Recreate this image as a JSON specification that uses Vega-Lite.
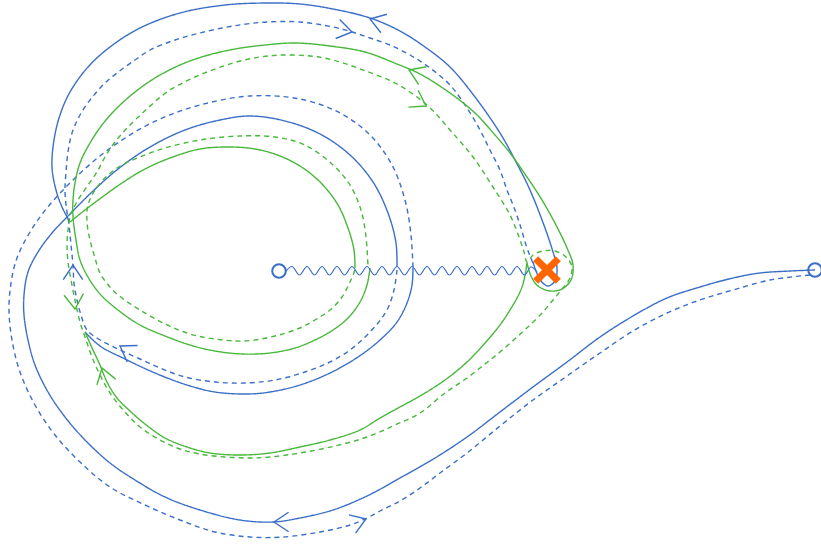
{
"$schema": "https://vega.github.io/schema/vega-lite/v6.json",
"width": 821, "height": 548,
"autosize": {"type": "none"},
"padding": 0,
"background": "white",
"config": {"view": {"stroke": null}},
"datasets": {
"paths": [
{"s":"BS1","i":1,"x":815,"y":270},{"s":"BS1","i":2,"x":790,"y":271},{"s":"BS1","i":3,"x":760,"y":273},{"s":"BS1","i":4,"x":733,"y":278},{"s":"BS1","i":5,"x":700,"y":287},{"s":"BS1","i":6,"x":667,"y":298},{"s":"BS1","i":7,"x":633,"y":316},{"s":"BS1","i":8,"x":600,"y":337},{"s":"BS1","i":9,"x":567,"y":362},{"s":"BS1","i":10,"x":533,"y":387},{"s":"BS1","i":11,"x":500,"y":412},{"s":"BS1","i":12,"x":467,"y":437},{"s":"BS1","i":13,"x":435,"y":458},{"s":"BS1","i":14,"x":400,"y":478},{"s":"BS1","i":15,"x":367,"y":496},{"s":"BS1","i":16,"x":333,"y":510},{"s":"BS1","i":17,"x":300,"y":518},{"s":"BS1","i":18,"x":273,"y":522},{"s":"BS1","i":19,"x":240,"y":520},{"s":"BS1","i":20,"x":200,"y":510},{"s":"BS1","i":21,"x":165,"y":497},{"s":"BS1","i":22,"x":135,"y":480},{"s":"BS1","i":23,"x":110,"y":463},{"s":"BS1","i":24,"x":85,"y":440},{"s":"BS1","i":25,"x":65,"y":417},{"s":"BS1","i":26,"x":48,"y":392},{"s":"BS1","i":27,"x":35,"y":365},{"s":"BS1","i":28,"x":28,"y":340},{"s":"BS1","i":29,"x":24,"y":315},{"s":"BS1","i":30,"x":24,"y":295},{"s":"BS1","i":31,"x":28,"y":272},{"s":"BS1","i":32,"x":38,"y":252},{"s":"BS1","i":33,"x":52,"y":233},{"s":"BS1","i":34,"x":70,"y":214},{"s":"BS1","i":35,"x":92,"y":192},{"s":"BS1","i":36,"x":118,"y":169},{"s":"BS1","i":37,"x":150,"y":147},{"s":"BS1","i":38,"x":185,"y":130},{"s":"BS1","i":39,"x":220,"y":120},{"s":"BS1","i":40,"x":250,"y":116},{"s":"BS1","i":41,"x":285,"y":121},{"s":"BS1","i":42,"x":320,"y":134},{"s":"BS1","i":43,"x":350,"y":155},{"s":"BS1","i":44,"x":373,"y":182},{"s":"BS1","i":45,"x":388,"y":213},{"s":"BS1","i":46,"x":396,"y":243},{"s":"BS1","i":47,"x":397,"y":267},
{"s":"BS2","i":1,"x":413,"y":268},{"s":"BS2","i":2,"x":412,"y":285},{"s":"BS2","i":3,"x":407,"y":303},{"s":"BS2","i":4,"x":397,"y":322},{"s":"BS2","i":5,"x":380,"y":340},{"s":"BS2","i":6,"x":358,"y":357},{"s":"BS2","i":7,"x":330,"y":373},{"s":"BS2","i":8,"x":300,"y":385},{"s":"BS2","i":9,"x":270,"y":392},{"s":"BS2","i":10,"x":247,"y":394},{"s":"BS2","i":11,"x":215,"y":392},{"s":"BS2","i":12,"x":187,"y":385},{"s":"BS2","i":13,"x":155,"y":373},{"s":"BS2","i":14,"x":125,"y":359},{"s":"BS2","i":15,"x":100,"y":346},{"s":"BS2","i":16,"x":85,"y":332},
{"s":"BS3","i":1,"x":70,"y":222},{"s":"BS3","i":2,"x":62,"y":207},{"s":"BS3","i":3,"x":56,"y":190},{"s":"BS3","i":4,"x":52,"y":167},{"s":"BS3","i":5,"x":54,"y":140},{"s":"BS3","i":6,"x":60,"y":115},{"s":"BS3","i":7,"x":70,"y":92},{"s":"BS3","i":8,"x":88,"y":67},{"s":"BS3","i":9,"x":110,"y":47},{"s":"BS3","i":10,"x":140,"y":28},{"s":"BS3","i":11,"x":180,"y":13},{"s":"BS3","i":12,"x":225,"y":5},{"s":"BS3","i":13,"x":267,"y":3},{"s":"BS3","i":14,"x":300,"y":4},{"s":"BS3","i":15,"x":333,"y":9},{"s":"BS3","i":16,"x":370,"y":18},{"s":"BS3","i":17,"x":400,"y":31},{"s":"BS3","i":18,"x":425,"y":47},{"s":"BS3","i":19,"x":450,"y":67},{"s":"BS3","i":20,"x":475,"y":97},{"s":"BS3","i":21,"x":500,"y":133},{"s":"BS3","i":22,"x":515,"y":160},{"s":"BS3","i":23,"x":530,"y":190},{"s":"BS3","i":24,"x":545,"y":228},{"s":"BS3","i":25,"x":553,"y":252},{"s":"BS3","i":26,"x":557,"y":268},{"s":"BS3","i":27,"x":555,"y":281},{"s":"BS3","i":28,"x":548,"y":286},{"s":"BS3","i":29,"x":541,"y":281},{"s":"BS3","i":30,"x":536,"y":271},{"s":"BS3","i":31,"x":533,"y":262},
{"s":"BD1","i":1,"x":810,"y":275},{"s":"BD1","i":2,"x":770,"y":280},{"s":"BD1","i":3,"x":733,"y":290},{"s":"BD1","i":4,"x":700,"y":300},{"s":"BD1","i":5,"x":667,"y":313},{"s":"BD1","i":6,"x":633,"y":331},{"s":"BD1","i":7,"x":600,"y":353},{"s":"BD1","i":8,"x":567,"y":376},{"s":"BD1","i":9,"x":533,"y":400},{"s":"BD1","i":10,"x":500,"y":426},{"s":"BD1","i":11,"x":467,"y":453},{"s":"BD1","i":12,"x":440,"y":473},{"s":"BD1","i":13,"x":420,"y":488},{"s":"BD1","i":14,"x":400,"y":501},{"s":"BD1","i":15,"x":380,"y":511},{"s":"BD1","i":16,"x":367,"y":518},{"s":"BD1","i":17,"x":350,"y":525},{"s":"BD1","i":18,"x":320,"y":532},{"s":"BD1","i":19,"x":283,"y":537},{"s":"BD1","i":20,"x":250,"y":537},{"s":"BD1","i":21,"x":215,"y":532},{"s":"BD1","i":22,"x":180,"y":520},{"s":"BD1","i":23,"x":145,"y":505},{"s":"BD1","i":24,"x":110,"y":487},{"s":"BD1","i":25,"x":80,"y":462},{"s":"BD1","i":26,"x":55,"y":435},{"s":"BD1","i":27,"x":35,"y":405},{"s":"BD1","i":28,"x":20,"y":372},{"s":"BD1","i":29,"x":12,"y":340},{"s":"BD1","i":30,"x":9,"y":310},{"s":"BD1","i":31,"x":11,"y":283},{"s":"BD1","i":32,"x":17,"y":258},{"s":"BD1","i":33,"x":30,"y":232},{"s":"BD1","i":34,"x":47,"y":208},{"s":"BD1","i":35,"x":70,"y":183},{"s":"BD1","i":36,"x":95,"y":160},{"s":"BD1","i":37,"x":125,"y":138},{"s":"BD1","i":38,"x":160,"y":119},{"s":"BD1","i":39,"x":200,"y":105},{"s":"BD1","i":40,"x":250,"y":96},{"s":"BD1","i":41,"x":300,"y":99},{"s":"BD1","i":42,"x":340,"y":113},{"s":"BD1","i":43,"x":370,"y":135},{"s":"BD1","i":44,"x":392,"y":165},{"s":"BD1","i":45,"x":405,"y":200},{"s":"BD1","i":46,"x":411,"y":235},{"s":"BD1","i":47,"x":413,"y":268},
{"s":"BD2","i":1,"x":397,"y":270},{"s":"BD2","i":2,"x":394,"y":290},{"s":"BD2","i":3,"x":388,"y":308},{"s":"BD2","i":4,"x":378,"y":323},{"s":"BD2","i":5,"x":365,"y":337},{"s":"BD2","i":6,"x":350,"y":350},{"s":"BD2","i":7,"x":330,"y":362},{"s":"BD2","i":8,"x":305,"y":372},{"s":"BD2","i":9,"x":275,"y":380},{"s":"BD2","i":10,"x":245,"y":383},{"s":"BD2","i":11,"x":215,"y":382},{"s":"BD2","i":12,"x":185,"y":377},{"s":"BD2","i":13,"x":160,"y":368},{"s":"BD2","i":14,"x":140,"y":359},{"s":"BD2","i":15,"x":118,"y":349},{"s":"BD2","i":16,"x":100,"y":340},{"s":"BD2","i":17,"x":87,"y":330},{"s":"BD2","i":18,"x":81,"y":315},{"s":"BD2","i":19,"x":77,"y":300},{"s":"BD2","i":20,"x":74,"y":283},{"s":"BD2","i":21,"x":73,"y":265},{"s":"BD2","i":22,"x":71,"y":245},{"s":"BD2","i":23,"x":69,"y":225},{"s":"BD2","i":24,"x":66,"y":205},{"s":"BD2","i":25,"x":65,"y":190},{"s":"BD2","i":26,"x":66,"y":172},{"s":"BD2","i":27,"x":68,"y":152},{"s":"BD2","i":28,"x":72,"y":133},{"s":"BD2","i":29,"x":80,"y":115},{"s":"BD2","i":30,"x":90,"y":100},{"s":"BD2","i":31,"x":103,"y":85},{"s":"BD2","i":32,"x":117,"y":73},{"s":"BD2","i":33,"x":135,"y":60},{"s":"BD2","i":34,"x":150,"y":50},{"s":"BD2","i":35,"x":175,"y":40},{"s":"BD2","i":36,"x":200,"y":33},{"s":"BD2","i":37,"x":233,"y":26},{"s":"BD2","i":38,"x":267,"y":22},{"s":"BD2","i":39,"x":300,"y":22},{"s":"BD2","i":40,"x":333,"y":27},{"s":"BD2","i":41,"x":352,"y":32},{"s":"BD2","i":42,"x":370,"y":38},{"s":"BD2","i":43,"x":390,"y":45},{"s":"BD2","i":44,"x":410,"y":55},{"s":"BD2","i":45,"x":430,"y":68},{"s":"BD2","i":46,"x":450,"y":85},{"s":"BD2","i":47,"x":467,"y":108},{"s":"BD2","i":48,"x":480,"y":130},{"s":"BD2","i":49,"x":490,"y":150},{"s":"BD2","i":50,"x":500,"y":170},{"s":"BD2","i":51,"x":507,"y":190},{"s":"BD2","i":52,"x":515,"y":210},{"s":"BD2","i":53,"x":521,"y":228},{"s":"BD2","i":54,"x":526,"y":245},{"s":"BD2","i":55,"x":530,"y":256},{"s":"BD2","i":56,"x":533,"y":263},
{"s":"GS1","i":1,"x":70,"y":222},{"s":"GS1","i":2,"x":85,"y":210},{"s":"GS1","i":3,"x":105,"y":195},{"s":"GS1","i":4,"x":125,"y":181},{"s":"GS1","i":5,"x":145,"y":169},{"s":"GS1","i":6,"x":170,"y":158},{"s":"GS1","i":7,"x":200,"y":149},{"s":"GS1","i":8,"x":227,"y":147},{"s":"GS1","i":9,"x":255,"y":149},{"s":"GS1","i":10,"x":280,"y":156},{"s":"GS1","i":11,"x":303,"y":168},{"s":"GS1","i":12,"x":322,"y":184},{"s":"GS1","i":13,"x":338,"y":205},{"s":"GS1","i":14,"x":348,"y":228},{"s":"GS1","i":15,"x":354,"y":250},{"s":"GS1","i":16,"x":355,"y":268},
{"s":"GS2","i":1,"x":370,"y":268},{"s":"GS2","i":2,"x":367,"y":285},{"s":"GS2","i":3,"x":360,"y":302},{"s":"GS2","i":4,"x":348,"y":318},{"s":"GS2","i":5,"x":333,"y":330},{"s":"GS2","i":6,"x":315,"y":340},{"s":"GS2","i":7,"x":295,"y":348},{"s":"GS2","i":8,"x":270,"y":353},{"s":"GS2","i":9,"x":243,"y":354},{"s":"GS2","i":10,"x":215,"y":351},{"s":"GS2","i":11,"x":190,"y":345},{"s":"GS2","i":12,"x":165,"y":336},{"s":"GS2","i":13,"x":140,"y":325},{"s":"GS2","i":14,"x":118,"y":310},{"s":"GS2","i":15,"x":100,"y":294},{"s":"GS2","i":16,"x":88,"y":277},{"s":"GS2","i":17,"x":80,"y":260},{"s":"GS2","i":18,"x":76,"y":240},{"s":"GS2","i":19,"x":73,"y":217},{"s":"GS2","i":20,"x":73,"y":200},{"s":"GS2","i":21,"x":75,"y":183},{"s":"GS2","i":22,"x":80,"y":163},{"s":"GS2","i":23,"x":90,"y":143},{"s":"GS2","i":24,"x":102,"y":125},{"s":"GS2","i":25,"x":117,"y":108},{"s":"GS2","i":26,"x":135,"y":92},{"s":"GS2","i":27,"x":155,"y":78},{"s":"GS2","i":28,"x":180,"y":65},{"s":"GS2","i":29,"x":205,"y":56},{"s":"GS2","i":30,"x":235,"y":49},{"s":"GS2","i":31,"x":265,"y":45},{"s":"GS2","i":32,"x":295,"y":43},{"s":"GS2","i":33,"x":330,"y":46},{"s":"GS2","i":34,"x":365,"y":52},{"s":"GS2","i":35,"x":397,"y":64},{"s":"GS2","i":36,"x":420,"y":74},{"s":"GS2","i":37,"x":450,"y":93},{"s":"GS2","i":38,"x":475,"y":113},{"s":"GS2","i":39,"x":495,"y":135},{"s":"GS2","i":40,"x":510,"y":153},{"s":"GS2","i":41,"x":527,"y":177},{"s":"GS2","i":42,"x":542,"y":200},{"s":"GS2","i":43,"x":557,"y":227},{"s":"GS2","i":44,"x":567,"y":248},{"s":"GS2","i":45,"x":573,"y":265},{"s":"GS2","i":46,"x":571,"y":280},{"s":"GS2","i":47,"x":562,"y":289},{"s":"GS2","i":48,"x":550,"y":291},{"s":"GS2","i":49,"x":538,"y":286},{"s":"GS2","i":50,"x":531,"y":276},{"s":"GS2","i":51,"x":527,"y":263},
{"s":"GS3","i":1,"x":527,"y":263},{"s":"GS3","i":2,"x":524,"y":280},{"s":"GS3","i":3,"x":520,"y":292},{"s":"GS3","i":4,"x":510,"y":310},{"s":"GS3","i":5,"x":500,"y":325},{"s":"GS3","i":6,"x":485,"y":343},{"s":"GS3","i":7,"x":467,"y":362},{"s":"GS3","i":8,"x":445,"y":380},{"s":"GS3","i":9,"x":420,"y":396},{"s":"GS3","i":10,"x":400,"y":407},{"s":"GS3","i":11,"x":380,"y":418},{"s":"GS3","i":12,"x":360,"y":430},{"s":"GS3","i":13,"x":330,"y":440},{"s":"GS3","i":14,"x":300,"y":447},{"s":"GS3","i":15,"x":270,"y":453},{"s":"GS3","i":16,"x":240,"y":455},{"s":"GS3","i":17,"x":210,"y":453},{"s":"GS3","i":18,"x":187,"y":447},{"s":"GS3","i":19,"x":165,"y":438},{"s":"GS3","i":20,"x":145,"y":424},{"s":"GS3","i":21,"x":130,"y":411},{"s":"GS3","i":22,"x":117,"y":398},{"s":"GS3","i":23,"x":107,"y":382},{"s":"GS3","i":24,"x":100,"y":365},{"s":"GS3","i":25,"x":93,"y":350},{"s":"GS3","i":26,"x":85,"y":332},
{"s":"GD1","i":1,"x":355,"y":270},{"s":"GD1","i":2,"x":350,"y":282},{"s":"GD1","i":3,"x":342,"y":297},{"s":"GD1","i":4,"x":330,"y":310},{"s":"GD1","i":5,"x":315,"y":320},{"s":"GD1","i":6,"x":300,"y":328},{"s":"GD1","i":7,"x":275,"y":336},{"s":"GD1","i":8,"x":245,"y":341},{"s":"GD1","i":9,"x":215,"y":339},{"s":"GD1","i":10,"x":190,"y":334},{"s":"GD1","i":11,"x":165,"y":324},{"s":"GD1","i":12,"x":140,"y":310},{"s":"GD1","i":13,"x":122,"y":298},{"s":"GD1","i":14,"x":110,"y":287},{"s":"GD1","i":15,"x":100,"y":273},{"s":"GD1","i":16,"x":95,"y":258},{"s":"GD1","i":17,"x":90,"y":240},{"s":"GD1","i":18,"x":87,"y":222},{"s":"GD1","i":19,"x":88,"y":205},{"s":"GD1","i":20,"x":95,"y":190},{"s":"GD1","i":21,"x":107,"y":176},{"s":"GD1","i":22,"x":122,"y":165},{"s":"GD1","i":23,"x":140,"y":157},{"s":"GD1","i":24,"x":165,"y":148},{"s":"GD1","i":25,"x":200,"y":140},{"s":"GD1","i":26,"x":240,"y":136},{"s":"GD1","i":27,"x":275,"y":137},{"s":"GD1","i":28,"x":305,"y":145},{"s":"GD1","i":29,"x":333,"y":165},{"s":"GD1","i":30,"x":350,"y":185},{"s":"GD1","i":31,"x":361,"y":210},{"s":"GD1","i":32,"x":366,"y":237},{"s":"GD1","i":33,"x":368,"y":267},
{"s":"GD2","i":1,"x":70,"y":215},{"s":"GD2","i":2,"x":78,"y":200},{"s":"GD2","i":3,"x":88,"y":185},{"s":"GD2","i":4,"x":97,"y":172},{"s":"GD2","i":5,"x":105,"y":157},{"s":"GD2","i":6,"x":115,"y":142},{"s":"GD2","i":7,"x":130,"y":125},{"s":"GD2","i":8,"x":148,"y":108},{"s":"GD2","i":9,"x":167,"y":92},{"s":"GD2","i":10,"x":195,"y":77},{"s":"GD2","i":11,"x":233,"y":63},{"s":"GD2","i":12,"x":260,"y":57},{"s":"GD2","i":13,"x":283,"y":55},{"s":"GD2","i":14,"x":310,"y":56},{"s":"GD2","i":15,"x":333,"y":60},{"s":"GD2","i":16,"x":363,"y":70},{"s":"GD2","i":17,"x":397,"y":84},{"s":"GD2","i":18,"x":428,"y":106},{"s":"GD2","i":19,"x":450,"y":130},{"s":"GD2","i":20,"x":473,"y":157},{"s":"GD2","i":21,"x":493,"y":187},{"s":"GD2","i":22,"x":510,"y":215},{"s":"GD2","i":23,"x":519,"y":237},{"s":"GD2","i":24,"x":524,"y":252},{"s":"GD2","i":25,"x":527,"y":262},{"s":"GD2","i":26,"x":533,"y":255},{"s":"GD2","i":27,"x":543,"y":251},{"s":"GD2","i":28,"x":555,"y":251},{"s":"GD2","i":29,"x":566,"y":257},{"s":"GD2","i":30,"x":572,"y":267},{"s":"GD2","i":31,"x":569,"y":280},{"s":"GD2","i":32,"x":562,"y":289},{"s":"GD2","i":33,"x":553,"y":300},{"s":"GD2","i":34,"x":543,"y":312},{"s":"GD2","i":35,"x":530,"y":325},{"s":"GD2","i":36,"x":517,"y":337},{"s":"GD2","i":37,"x":500,"y":352},{"s":"GD2","i":38,"x":485,"y":364},{"s":"GD2","i":39,"x":467,"y":378},{"s":"GD2","i":40,"x":445,"y":393},{"s":"GD2","i":41,"x":420,"y":413},{"s":"GD2","i":42,"x":395,"y":425},{"s":"GD2","i":43,"x":367,"y":437},{"s":"GD2","i":44,"x":335,"y":446},{"s":"GD2","i":45,"x":300,"y":453},{"s":"GD2","i":46,"x":270,"y":457},{"s":"GD2","i":47,"x":250,"y":458},{"s":"GD2","i":48,"x":225,"y":457},{"s":"GD2","i":49,"x":200,"y":454},{"s":"GD2","i":50,"x":180,"y":449},{"s":"GD2","i":51,"x":160,"y":440},{"s":"GD2","i":52,"x":140,"y":427},{"s":"GD2","i":53,"x":125,"y":412},{"s":"GD2","i":54,"x":110,"y":393},{"s":"GD2","i":55,"x":100,"y":375},{"s":"GD2","i":56,"x":92,"y":357},{"s":"GD2","i":57,"x":86,"y":340},{"s":"GD2","i":58,"x":80,"y":322},{"s":"GD2","i":59,"x":76,"y":305},{"s":"GD2","i":60,"x":72,"y":285},{"s":"GD2","i":61,"x":68,"y":262},{"s":"GD2","i":62,"x":67,"y":245},{"s":"GD2","i":63,"x":68,"y":230},{"s":"GD2","i":64,"x":70,"y":215}
],
"wave": [
{"i":1,"x":286,"y":271},{"i":2,"x":292,"y":266.5},{"i":3,"x":299.5,"y":275},{"i":4,"x":307,"y":266.5},{"i":5,"x":314.5,"y":275},{"i":6,"x":322,"y":266.5},{"i":7,"x":329.5,"y":275},{"i":8,"x":337,"y":266.5},{"i":9,"x":344.5,"y":275},{"i":10,"x":352,"y":266.5},{"i":11,"x":359.5,"y":275},{"i":12,"x":367,"y":266.5},{"i":13,"x":374.5,"y":275},{"i":14,"x":382,"y":266.5},{"i":15,"x":389.5,"y":275},{"i":16,"x":397,"y":266.5},{"i":17,"x":404.5,"y":275},{"i":18,"x":412,"y":266.5},{"i":19,"x":419.5,"y":275},{"i":20,"x":427,"y":266.5},{"i":21,"x":434.5,"y":275},{"i":22,"x":442,"y":266.5},{"i":23,"x":449.5,"y":275},{"i":24,"x":457,"y":266.5},{"i":25,"x":464.5,"y":275},{"i":26,"x":472,"y":266.5},{"i":27,"x":479.5,"y":275},{"i":28,"x":487,"y":266.5},{"i":29,"x":494.5,"y":275},{"i":30,"x":502,"y":266.5},{"i":31,"x":509.5,"y":275},{"i":32,"x":517,"y":266.5},{"i":33,"x":524.5,"y":275},{"i":34,"x":531,"y":267},{"i":35,"x":537,"y":272}
],
"arrows": [
{"s":"BS3","x":370,"y":19,"a":198},
{"s":"BD2","x":352,"y":32,"a":12},
{"s":"GS2","x":409,"y":70,"a":203},
{"s":"GD2","x":426,"y":106,"a":30},
{"s":"BD2","x":73,"y":265,"a":270},
{"s":"GD2","x":75,"y":309,"a":85},
{"s":"BD2","x":120,"y":346,"a":212},
{"s":"GS3","x":102,"y":368,"a":253},
{"s":"BS1","x":274,"y":522,"a":180},
{"s":"BD1","x":366,"y":519,"a":340}
],
"ends": [{"x":279,"y":271},{"x":815,"y":270}],
"pole": [{"x":547,"y":270}]
},
"encoding": {
"x": {"field":"x","type":"quantitative","scale":{"domain":[0,821],"nice":false,"zero":false},"axis":null},
"y": {"field":"y","type":"quantitative","scale":{"domain":[0,548],"nice":false,"zero":false,"reverse":true},"axis":null}
},
"layer": [
{"data":{"name":"paths"},
 "mark":{"type":"line","interpolate":"catmull-rom","strokeWidth":1.4},
 "encoding":{
  "order":{"field":"i","type":"quantitative"},
  "color":{"field":"s","type":"nominal","legend":null,"scale":{"domain":["BS1","BS2","BS3","BD1","BD2","GS1","GS2","GS3","GD1","GD2"],"range":["#3b6fc7","#3b6fc7","#3b6fc7","#3b6fc7","#3b6fc7","#47b83a","#47b83a","#47b83a","#47b83a","#47b83a"]}},
  "strokeDash":{"field":"s","type":"nominal","legend":null,"scale":{"domain":["BS1","BS2","BS3","BD1","BD2","GS1","GS2","GS3","GD1","GD2"],"range":[[1,0],[1,0],[1,0],[5,4],[5,4],[1,0],[1,0],[1,0],[5,4],[5,4]]}}
 }},
{"data":{"name":"wave"},
 "mark":{"type":"line","interpolate":"catmull-rom","strokeWidth":1.2,"color":"#3b6fc7"},
 "encoding":{"order":{"field":"i","type":"quantitative"}}},
{"data":{"name":"arrows"},
 "mark":{"type":"point","shape":"M-1.5,-1L0,0L-1.5,1","filled":false,"strokeWidth":1.4,"size":380,"opacity":1},
 "encoding":{
  "color":{"field":"s","type":"nominal","legend":null},
  "angle":{"field":"a","type":"quantitative","scale":null}
 }},
{"data":{"name":"ends"},
 "mark":{"type":"point","shape":"circle","filled":false,"size":185,"strokeWidth":2,"color":"#3b6fc7","opacity":1}},
{"data":{"name":"pole"},
 "mark":{"type":"point","shape":"M-1,-0.22L-0.22,-0.22L-0.22,-1L0.22,-1L0.22,-0.22L1,-0.22L1,0.22L0.22,0.22L0.22,1L-0.22,1L-0.22,0.22L-1,0.22Z","filled":true,"size":1024,"color":"#ff6600","angle":45,"opacity":1,"strokeWidth":0}}
]
}
